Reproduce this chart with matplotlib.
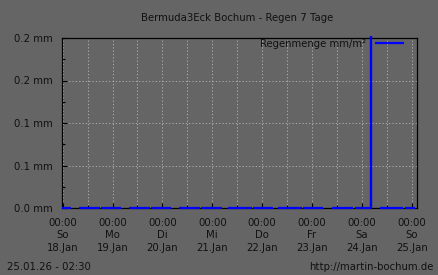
import matplotlib
matplotlib.use("Agg")
import matplotlib.pyplot as plt
from matplotlib.transforms import Bbox, TransformedBbox

BG = "#656565"
FG = "#111111"
LINE_C = "#0000ff"
GRID_C = "#b8b8b8"

# hours since So 18.Jan 00:00
day_ticks = [0, 24, 48, 72, 96, 120, 144, 168]
day_labels = ["00:00\nSo\n18.Jan", "00:00\nMo\n19.Jan", "00:00\nDi\n20.Jan",
              "00:00\nMi\n21.Jan", "00:00\nDo\n22.Jan", "00:00\nFr\n23.Jan",
              "00:00\nSa\n24.Jan", "00:00\nSo\n25.Jan"]
y_ticks = [0.0, 0.05, 0.1, 0.15, 0.2]
y_labels = ["0.0 mm", "0.1 mm", "0.1 mm", "0.2 mm", "0.2 mm"]

# stretches with data (rain = 0), gaps are missing samples
seg_start = [-0.1, 7.8, 18.7, 31.8, 42.6, 55.8, 66.6, 79.8, 91.7,
             103.5, 115.5, 129.5, 140.6, 152.6, 164.6]
seg_end = [4.2, 18.2, 28.2, 41.9, 52.0, 65.9, 76.9, 91.1, 101.1,
           115.1, 125.1, 139.8, 148.6, 163.8, 169.4]
spike_t = 148.6
spike_val = 0.3

fig = plt.figure(figsize=(4.38, 2.75), dpi=100, facecolor=BG)
ax = fig.add_axes([62 / 438, 1 - 208 / 275, 355 / 438, 170 / 275])
ax.set_facecolor(BG)
plt.rcParams["font.family"] = "DejaVu Sans"
fs = 7.3

for i, (s, e) in enumerate(zip(seg_start, seg_end)):
    ax.plot([s, e], [0, 0], color=LINE_C, lw=1.6, clip_on=False, zorder=4,
            solid_capstyle="butt", label="Regenmenge mm/m²" if i == 0 else None)
sp, = ax.plot([spike_t, spike_t], [0, spike_val], color=LINE_C, lw=1.7,
              zorder=4, solid_capstyle="butt")
# let the spike run a hair past the frame like rrdtool does
sp.set_clip_box(TransformedBbox(Bbox([[0, 0], [1, 1.01]]), ax.transAxes))

ax.set_xlim(-0.3, 170.5)
ax.set_ylim(0, 0.2)
ax.set_xticks(day_ticks)
ax.set_xticklabels(day_labels, fontsize=fs, color=FG, linespacing=1.32)
ax.set_xticks(range(12, 170, 24), minor=True)
ax.set_yticks(y_ticks)
ax.set_yticklabels(y_labels, fontsize=fs, color=FG)
ax.set_yticks([0.025, 0.075, 0.125, 0.175], minor=True)
ax.tick_params(axis="both", which="major", direction="in", length=3.5,
               width=0.8, color="black", pad=7)
ax.tick_params(axis="both", which="minor", direction="in", length=2,
               width=0.8, color="black")
ax.tick_params(axis="y", pad=7)

ax.grid(True, which="major", color=GRID_C, ls=(0, (1.5, 2.5)), lw=0.6)
ax.grid(True, which="minor", axis="x", color=GRID_C, ls=(0, (1.5, 2.5)), lw=0.6)
ax.set_axisbelow(True)
for sp_ in ax.spines.values():
    sp_.set_color("black")
    sp_.set_linewidth(0.9)

ax.legend(loc="upper right", bbox_to_anchor=((404 - 62) / 355, (208 - 39) / 170),
          frameon=False, markerfirst=False, fontsize=fs, borderpad=0,
          borderaxespad=0, handlelength=2.9, handletextpad=0.8,
          labelcolor=FG)

fig.text(237 / 438, 1 - 18 / 275, "Bermuda3Eck Bochum - Regen 7 Tage",
         ha="center", va="center", fontsize=fs, color=FG)
fig.text(7 / 438, 1 - 267 / 275, "25.01.26 - 02:30",
         ha="left", va="center", fontsize=fs, color=FG)
fig.text(433 / 438, 1 - 267 / 275, "http://martin-bochum.de",
         ha="right", va="center", fontsize=fs, color=FG)

fig.savefig("out.png", dpi=100, facecolor=BG)
